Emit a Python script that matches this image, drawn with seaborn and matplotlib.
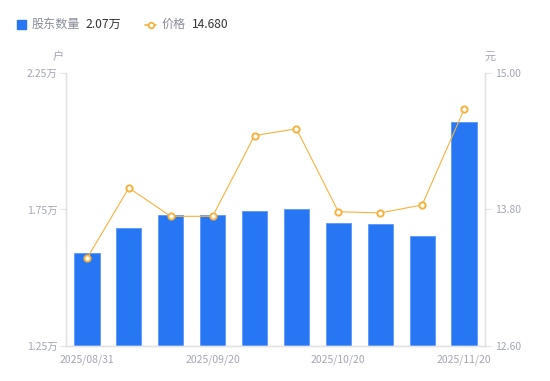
import pandas as pd
import seaborn as sns
import matplotlib.pyplot as plt
from matplotlib.patches import Rectangle
from matplotlib.lines import Line2D

# data
dates = ["2025/08/31", "2025/09/05", "2025/09/10", "2025/09/20", "2025/09/30",
         "2025/10/10", "2025/10/20", "2025/10/31", "2025/11/10", "2025/11/20"]
holders = [1.59, 1.682, 1.73, 1.73, 1.745, 1.75, 1.70, 1.697, 1.653, 2.07]   # 万户
price = [13.37, 13.99, 13.74, 13.74, 14.45, 14.51, 13.78, 13.77, 13.84, 14.68]  # 元
left_ticks = [1.25, 1.75, 2.25]
right_ticks = [12.60, 13.80, 15.00]

bar_color = "#2777f5"
line_color = "#f6b23e"
tick_color = "#a3a6b4"
axis_color = "#e3e3e3"

sns.set_theme(style="white")
plt.rcParams['font.family'] = ['Noto Sans CJK SC', 'DejaVu Sans']

df = pd.DataFrame({"date": dates, "holders": holders, "price": price})
df["pos"] = range(len(df))

fig = plt.figure(figsize=(5.5, 3.81), dpi=100)
ax = fig.add_axes([0.12, 0.0919, 0.7618, 0.7165])

sns.barplot(data=df, x="pos", y="holders", color=bar_color, saturation=1,
            width=0.6, edgecolor="#5c98f7", linewidth=0.6, ax=ax)
ax.set_ylim(left_ticks[0], left_ticks[-1])
ax.set_yticks(left_ticks)
ax.set_yticklabels([f"{v:.2f}万" for v in left_ticks])

ax2 = ax.twinx()
sns.lineplot(data=df, x="pos", y="price", color=line_color, linewidth=0.8,
             marker="o", markersize=4.5, markerfacecolor="white",
             markeredgecolor=line_color, markeredgewidth=1.4, ax=ax2)
ax2.set_ylim(right_ticks[0], right_ticks[-1])
ax2.set_yticks(right_ticks)
ax2.set_yticklabels([f"{v:.2f}" for v in right_ticks])

for a in (ax, ax2):
    a.set_xlim(-0.5, len(dates) - 0.5)
    a.set_xlabel("")
    a.set_ylabel("")
    a.grid(False)
    a.spines["top"].set_visible(False)
    for s in ("left", "right", "bottom"):
        a.spines[s].set_color(axis_color)
        a.spines[s].set_linewidth(1)

ax.set_xticks(df["pos"][::3])
ax.set_xticklabels(dates[::3])
ax.tick_params(axis="x", length=0, pad=6, labelsize=7.5, labelcolor=tick_color)
ax.tick_params(axis="y", left=True, length=4, width=0.8, color=axis_color,
               pad=2, labelsize=7.5, labelcolor=tick_color)
ax2.tick_params(axis="y", right=True, length=4, width=0.8, color=axis_color,
                pad=3, labelsize=7.5, labelcolor=tick_color)

# unit labels
fig.text(58 / 550, 1 - 57 / 381, "户", ha="center", va="center", fontsize=8, color=tick_color)
fig.text(490 / 550, 1 - 57 / 381, "元", ha="center", va="center", fontsize=8, color=tick_color)

# legend at top
ly = 1 - 24.5 / 381
fig.patches.append(Rectangle((17 / 550, 1 - 29 / 381), 9 / 550, 9 / 381,
                             transform=fig.transFigure, color=bar_color))
fig.text(32 / 550, ly, "股东数量", ha="left", va="center", fontsize=8.7, color="#8a8d99")
fig.text(85 / 550, ly, f"{holders[-1]:.2f}万", ha="left", va="center", fontsize=8.7, color="#333333")
fig.lines.append(Line2D([145 / 550, 156 / 550], [ly, ly], transform=fig.transFigure,
                        color=line_color, linewidth=1.2))
fig.lines.append(Line2D([150.5 / 550], [ly], transform=fig.transFigure, color=line_color,
                        marker="o", markersize=4, markerfacecolor="white",
                        markeredgewidth=1.3))
fig.text(162 / 550, ly, "价格", ha="left", va="center", fontsize=8.7, color="#8a8d99")
fig.text(192 / 550, ly, f"{price[-1]:.3f}", ha="left", va="center", fontsize=8.7, color="#333333")

fig.savefig("out.png", dpi=100)
